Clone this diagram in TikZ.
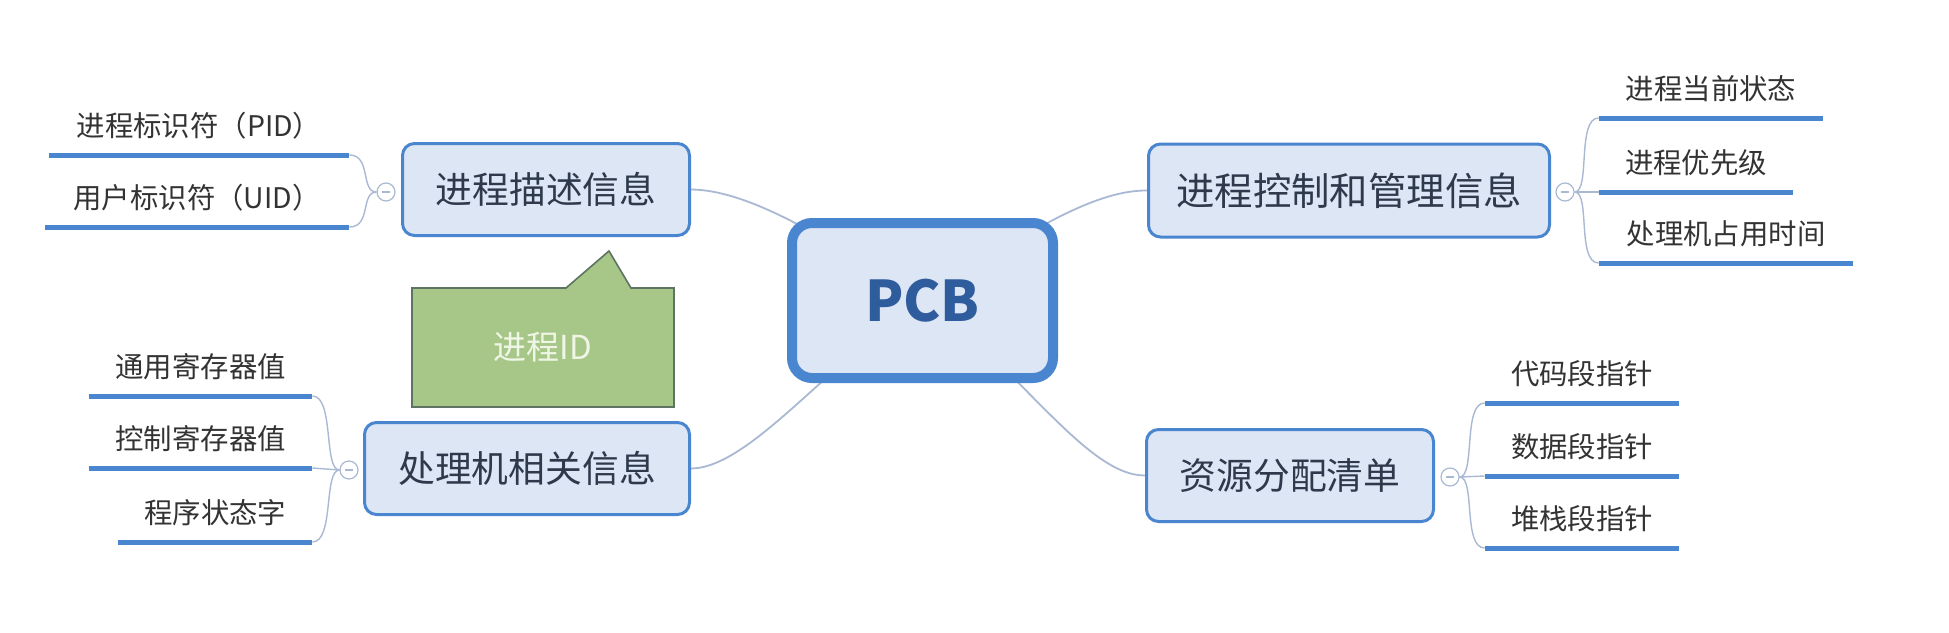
\documentclass[tikz,border=0pt]{standalone}
\usepackage{fontspec}
\setmainfont{Noto Sans CJK SC}
\usetikzlibrary{backgrounds}
\definecolor{topicblue}{HTML}{4A86D0}
\definecolor{topicfill}{HTML}{DDE6F5}
\definecolor{topictext}{HTML}{2E3A4C}
\definecolor{pcbtext}{HTML}{2F5C9C}
\definecolor{connc}{HTML}{A9B9D3}
\definecolor{subtext}{HTML}{333333}
\definecolor{notefill}{HTML}{A7C789}
\definecolor{notedraw}{HTML}{5E7361}
\definecolor{notetext}{HTML}{F0F6E6}
\begin{document}
\begin{tikzpicture}[x=0.5pt,y=-0.5pt,
  topic/.style={draw=topicblue, line width=1.5pt, fill=topicfill, rounded corners=6pt,
    text=topictext, font=\fontsize{18.4}{20}\selectfont, inner sep=0pt},
  centre/.style={draw=topicblue, line width=5pt, fill=topicfill, rounded corners=10pt,
    text=pcbtext, font=\fontsize{28}{30}\selectfont\bfseries, inner sep=0pt},
  sub/.style={anchor=south, inner xsep=0pt, inner ysep=9pt, text depth=0pt,
    text=subtext, font=\fontsize{14.2}{16}\selectfont},
  uline/.style={draw=topicblue, line width=2.5pt},
  fold/.style={circle, draw=connc, fill=white, line width=0.6pt, minimum size=9pt, inner sep=0pt,
    path picture={\draw[connc, line width=0.6pt] ([xshift=-2pt]path picture bounding box.center) -- ([xshift=2pt]path picture bounding box.center);}},
  branch/.style={draw=connc, line width=0.9pt},
  twig/.style={draw=connc, line width=0.7pt},
  note/.style={text=notetext, font=\fontsize{16.5}{18}\selectfont, inner sep=0pt}
]
\useasboundingbox (0,0) rectangle (1949,632);

% central topic and main topics
\node[centre, minimum width=130.5pt, minimum height=77.5pt] (pcb) at (922.5,300.5) {PCB};
\node[topic, minimum width=143.5pt, minimum height=46pt] (desc) at (546,189.5) {进程描述信息};
\node[topic, minimum width=200.5pt, minimum height=46.5pt, font=\fontsize{19.2}{21}\selectfont] (ctrl) at (1349,190.5) {进程控制和管理信息};
\node[topic, minimum width=162.5pt, minimum height=46pt] (cpu) at (527,468.5) {处理机相关信息};
\node[topic, minimum width=143.5pt, minimum height=46pt] (res) at (1290,475.5) {资源分配清单};

% callout
\draw[fill=notefill, draw=notedraw, line width=0.8pt]
  (412,288) -- (566,288) -- (609,251) -- (631,288) -- (674,288) -- (674,407) -- (412,407) -- cycle;
\node[note] (noteid) at (543,347) {进程ID};

% sub topics
\node[sub, minimum width=150pt] (pid) at (199,155) {进程标识符（PID）};
\node[sub, minimum width=152pt] (uid) at (197,227) {用户标识符（UID）};
\node[sub, minimum width=111.25pt] (gen) at (200.75,396) {通用寄存器值};
\node[sub, minimum width=111.25pt] (ctl) at (200.75,468) {控制寄存器值};
\node[sub, minimum width=96.75pt] (psw) at (215.25,542) {程序状态字};
\node[sub, minimum width=112pt] (st) at (1711,118) {进程当前状态};
\node[sub, minimum width=97pt] (pri) at (1696,192) {进程优先级};
\node[sub, minimum width=127pt] (tm) at (1726,263) {处理机占用时间};
\node[sub, minimum width=97pt] (code) at (1582,403) {代码段指针};
\node[sub, minimum width=97pt] (data) at (1582,476) {数据段指针};
\node[sub, minimum width=97pt] (stack) at (1582,548) {堆栈段指针};
\foreach \n in {pid,uid,gen,ctl,psw,st,pri,tm,code,data,stack}
  \draw[uline] (\n.south west) -- (\n.south east);

% fold circles
\node[fold] (f1) at (386,192) {};
\node[fold] (f2) at (349,470) {};
\node[fold] (f3) at (1565,192) {};
\node[fold] (f4) at (1450,477) {};

% twigs
\draw[twig] (f1.west) .. controls +(-16,0) and +(22,0) .. (pid.south east);
\draw[twig] (f1.west) .. controls +(-16,0) and +(22,0) .. (uid.south east);
\draw[twig] (f2.west) .. controls +(-16,0) and +(22,0) .. (gen.south east);
\draw[twig] (f2.west) -- (ctl.south east);
\draw[twig] (f2.west) .. controls +(-16,0) and +(22,0) .. (psw.south east);
\draw[twig] (f3.east) .. controls +(16,0) and +(-22,0) .. (st.south west);
\draw[twig] (f3.east) -- (pri.south west);
\draw[twig] (f3.east) .. controls +(16,0) and +(-22,0) .. (tm.south west);
\draw[twig] (f4.east) .. controls +(16,0) and +(-22,0) .. (code.south west);
\draw[twig] (f4.east) -- (data.south west);
\draw[twig] (f4.east) .. controls +(16,0) and +(-22,0) .. (stack.south west);

\begin{pgfonlayer}{background}
\fill[white] (0,0) rectangle (1949,632);
\draw[branch] (desc.east) .. controls (750,190) and (830,240) .. (pcb.center);
\draw[branch] (ctrl.west) .. controls (1090,190) and (1015,240) .. (pcb.center);
\draw[branch] (cpu.east) .. controls (750,468) and (830,360) .. (pcb.center);
\draw[branch] (res.west) .. controls (1085,476) and (1015,360) .. (pcb.center);
\end{pgfonlayer}
\end{tikzpicture}
\end{document}
